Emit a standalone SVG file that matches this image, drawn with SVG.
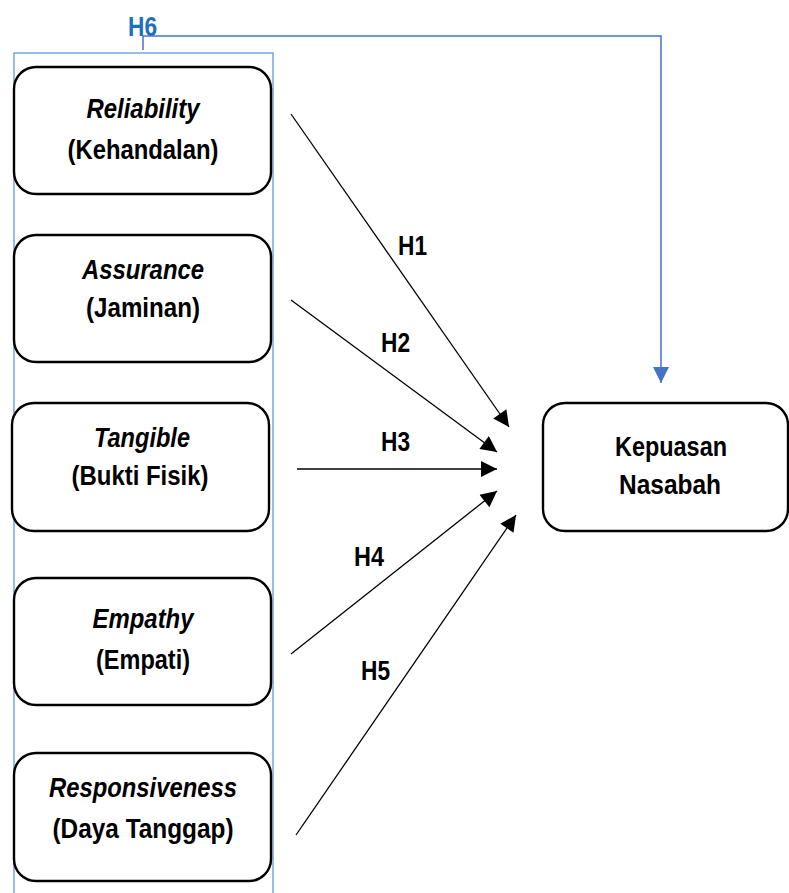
<svg xmlns="http://www.w3.org/2000/svg" width="789" height="893" viewBox="0 0 789 893">
<defs>
<style>
.node rect{fill:#fff;stroke:#000;stroke-width:2.4}
text{font-family:"Liberation Sans",Arial,sans-serif;font-weight:bold;font-size:28px;fill:#000;text-anchor:middle}
.it{font-style:italic}
.lbl{text-anchor:start}
.conn line{stroke:#000;stroke-width:1.3;fill:none}
</style>
<marker id="ah" viewBox="0 0 10 10" refX="10" refY="5" markerWidth="18" markerHeight="16" markerUnits="userSpaceOnUse" orient="auto">
<path d="M0,0 L10,5 L0,10 Z" fill="#000"/>
</marker>
<marker id="ahb" viewBox="0 0 10 10" refX="10" refY="5" markerWidth="16" markerHeight="16" markerUnits="userSpaceOnUse" orient="auto">
<path d="M0,0 L10,5 L0,10 Z" fill="#4472c4"/>
</marker>
</defs>
<rect x="14" y="53" width="259" height="850" fill="none" stroke="#5b9bd5" stroke-width="1.3"/>
<g id="h6">
<text class="lbl" x="128" y="36" style="fill:#1f6fc0" textLength="29" lengthAdjust="spacingAndGlyphs">H6</text>
<line x1="143" y1="36" x2="143" y2="50" stroke="#4472c4" stroke-width="1.5"/>
<path d="M143,36 H661 V383" fill="none" stroke="#4472c4" stroke-width="1.5" marker-end="url(#ahb)"/>
</g>
<g id="n1" class="node">
<rect x="14" y="67" width="257" height="127" rx="22"/>
<text class="it" x="143" y="118" textLength="113" lengthAdjust="spacingAndGlyphs">Reliability</text>
<text x="143" y="159" textLength="151" lengthAdjust="spacingAndGlyphs">(Kehandalan)</text>
</g>
<g id="n2" class="node">
<rect x="14" y="235" width="257" height="127" rx="22"/>
<text class="it" x="143" y="279" textLength="122" lengthAdjust="spacingAndGlyphs">Assurance</text>
<text x="143" y="317" textLength="114" lengthAdjust="spacingAndGlyphs">(Jaminan)</text>
</g>
<g id="n3" class="node">
<rect x="12" y="403" width="257" height="128" rx="22"/>
<text class="it" x="142" y="447" textLength="96" lengthAdjust="spacingAndGlyphs">Tangible</text>
<text x="140" y="485" textLength="137" lengthAdjust="spacingAndGlyphs">(Bukti Fisik)</text>
</g>
<g id="n4" class="node">
<rect x="14" y="578" width="257" height="127" rx="22"/>
<text class="it" x="143" y="628" textLength="101" lengthAdjust="spacingAndGlyphs">Empathy</text>
<text x="143" y="669" textLength="94" lengthAdjust="spacingAndGlyphs">(Empati)</text>
</g>
<g id="n5" class="node">
<rect x="14" y="753" width="257" height="128" rx="22"/>
<text class="it" x="143" y="797" textLength="188" lengthAdjust="spacingAndGlyphs">Responsiveness</text>
<text x="143" y="838" textLength="181" lengthAdjust="spacingAndGlyphs">(Daya Tanggap)</text>
</g>
<g id="n6" class="node">
<rect x="543" y="403" width="245" height="128" rx="22"/>
<text x="671" y="456" textLength="112" lengthAdjust="spacingAndGlyphs">Kepuasan</text>
<text x="670" y="494" textLength="102" lengthAdjust="spacingAndGlyphs">Nasabah</text>
</g>
<g id="connectors" class="conn">
<line x1="291" y1="114" x2="509" y2="427" marker-end="url(#ah)"/>
<line x1="291" y1="300" x2="497" y2="452" marker-end="url(#ah)"/>
<line x1="297" y1="469" x2="497" y2="469" marker-end="url(#ah)"/>
<line x1="291" y1="654" x2="497" y2="491" marker-end="url(#ah)"/>
<line x1="296" y1="835" x2="516" y2="515" marker-end="url(#ah)"/>
</g>
<g id="labels">
<text class="lbl" x="398" y="255" textLength="29" lengthAdjust="spacingAndGlyphs">H1</text>
<text class="lbl" x="381" y="352" textLength="29" lengthAdjust="spacingAndGlyphs">H2</text>
<text class="lbl" x="381" y="451" textLength="29" lengthAdjust="spacingAndGlyphs">H3</text>
<text class="lbl" x="354" y="566" textLength="30" lengthAdjust="spacingAndGlyphs">H4</text>
<text class="lbl" x="361" y="680" textLength="29" lengthAdjust="spacingAndGlyphs">H5</text>
</g>
</svg>
